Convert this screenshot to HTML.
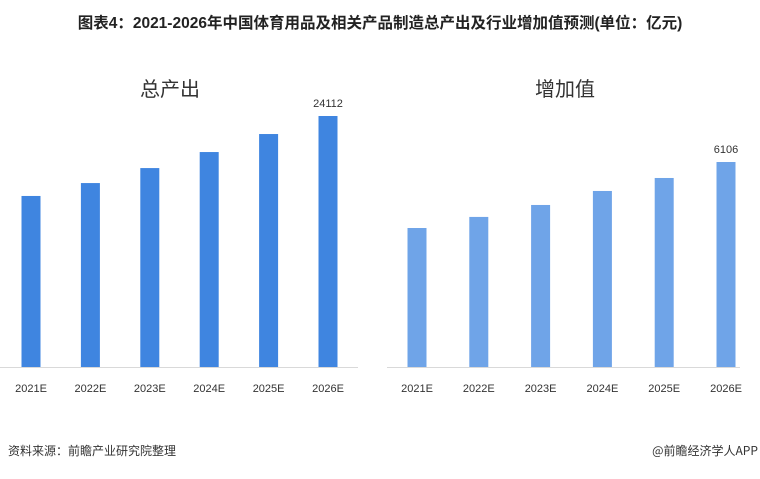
<!DOCTYPE html>
<html><head><meta charset="utf-8"><style>
body{margin:0;background:#fff;width:760px;height:474px;overflow:hidden;font-family:"Liberation Sans","Noto Sans CJK SC",sans-serif}
</style></head><body>
<svg width="760" height="474" xmlns="http://www.w3.org/2000/svg">
<text x="380" y="28" text-anchor="middle" font-size="15.5" font-weight="bold" fill="#222" font-family="Liberation Sans,Noto Sans CJK SC,sans-serif">图表4：2021-2026年中国体育用品及相关产品制造总产出及行业增加值预测(单位：亿元)</text>
<text x="170" y="96" text-anchor="middle" font-size="20" fill="#333" font-family="Noto Sans CJK SC,sans-serif">总产出</text>
<text x="565" y="96" text-anchor="middle" font-size="20" fill="#333" font-family="Noto Sans CJK SC,sans-serif">增加值</text>
<line x1="0" y1="367.5" x2="358" y2="367.5" stroke="#d9d9d9"/>
<line x1="387" y1="367.5" x2="740" y2="367.5" stroke="#d9d9d9"/>
<g id="left"></g><g id="right"></g>
<text x="8" y="455" font-size="12" fill="#333" font-family="Noto Sans CJK SC,sans-serif">资料来源：前瞻产业研究院整理</text>
<text x="758" y="455" text-anchor="end" font-size="12" fill="#333" font-family="Noto Sans CJK SC,sans-serif">@前瞻经济学人APP</text>
</svg>
<script>
const categories=["2021E","2022E","2023E","2024E","2025E","2026E"];
const totalOutput=[16430,17670,19110,20650,22380,24112];
const valueAdded=[4140,4470,4826,5243,5630,6106];
const ns="http://www.w3.org/2000/svg";
function draw(gid,vals,x0,step,scale,color,prefix){
  const g=document.getElementById(gid);
  const base=367;
  vals.forEach((v,i)=>{
    const cx=x0+i*step,h=v*scale;
    const r=document.createElementNS(ns,"rect");
    r.setAttribute("x",cx-9.5);r.setAttribute("y",base-h);r.setAttribute("width",19);r.setAttribute("height",h);r.setAttribute("fill",color);
    
    
    g.appendChild(r);
    const t=document.createElementNS(ns,"text");
    t.setAttribute("x",cx);t.setAttribute("y",392);t.setAttribute("text-anchor","middle");t.setAttribute("font-size","11");t.setAttribute("fill","#333");
    t.textContent=categories[i];
    
    
    g.appendChild(t);
    if(i===vals.length-1){
      const l=document.createElementNS(ns,"text");
      l.setAttribute("x",cx);l.setAttribute("y",base-h-9);l.setAttribute("text-anchor","middle");l.setAttribute("font-size","11");l.setAttribute("fill","#333");
      l.textContent=String(v);
      
      
      g.appendChild(l);
    }
  });
}
draw("left",totalOutput,31,59.4,251/24112,"#3f85e0","total-output");
draw("right",valueAdded,417,61.8,205/6106,"#6fa4e8","value-added");
</script>
</body></html>
